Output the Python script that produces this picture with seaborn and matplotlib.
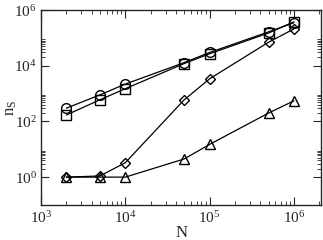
import matplotlib
matplotlib.use("Agg")
import matplotlib.pyplot as plt
import seaborn as sns
import pandas as pd
from matplotlib.ticker import FixedLocator, NullFormatter, LogLocator

sns.set_style("ticks")
plt.rcParams['font.family'] = ['Liberation Serif', 'DejaVu Serif']
plt.rcParams['mathtext.fontset'] = 'custom'
plt.rcParams['mathtext.rm'] = 'Liberation Serif'
plt.rcParams['mathtext.it'] = 'Liberation Serif:italic'

N = [2000, 5000, 10000, 50000, 100000, 500000, 1000000]
circle = [300, 900, 2200, 13000, 30000, 165000, 350000]
square = [170, 600, 1500, 12000, 27000, 150000, 380000]
diamond = [1, 1.1, 3.3, 600, 3400, 70000, 210000]
triangle = [1, 1, 1, 4.5, 15, 200, 550]

series = [("circle", circle, "o"), ("square", square, "s"),
          ("diamond", diamond, "D"), ("triangle", triangle, "^")]

fig = plt.figure(figsize=(3.23, 2.40), dpi=100)
ax = fig.add_axes([0.127, 0.146, 0.867, 0.812])

for name, vals, m in series:
    df = pd.DataFrame({"N": N, "n": vals})
    ms = {"o": 7, "s": 6.5, "D": 5.5, "^": 7}[m]
    sns.lineplot(data=df, x="N", y="n", ax=ax, color="black", lw=0.9,
                 marker=m, markersize=ms, markerfacecolor="none",
                 markeredgecolor="black", markeredgewidth=1.0)

ax.set_xscale("log")
ax.set_yscale("log")
ax.set_xlim(1e3, 2.1e6)
ax.set_ylim(1e-1, 1e6)
ax.set_xticks([1e3, 1e4, 1e5, 1e6])
ax.set_yticks([1e0, 1e2, 1e4, 1e6])
ax.xaxis.set_minor_locator(LogLocator(base=10, subs=range(2, 10), numticks=20))
yminor = [s * 10.0 ** e for e in (0, 2, 4) for s in range(2, 10)]
ax.yaxis.set_minor_locator(FixedLocator(yminor))
ax.xaxis.set_minor_formatter(NullFormatter())
ax.yaxis.set_minor_formatter(NullFormatter())
ax.tick_params(which="both", direction="in", top=True, right=True, labelsize=11)
ax.tick_params(axis="x", which="major", pad=4)
ax.tick_params(axis="y", which="major", pad=3)
ax.tick_params(which="major", length=6, width=0.8)
ax.tick_params(which="minor", length=3, width=0.6)
for s in ax.spines.values():
    s.set_linewidth(1.0)
ax.set_xlabel("N", fontsize=12, labelpad=-1)
ax.set_ylabel(r"n$_\mathrm{S}$", fontsize=12)
ax.yaxis.set_label_coords(-0.08, 0.5)

fig.savefig("out.png", dpi=100)
